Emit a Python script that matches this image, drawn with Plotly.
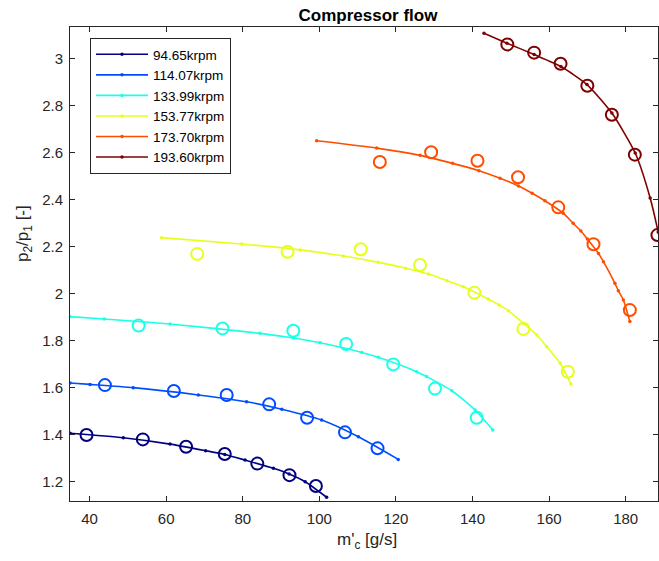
import plotly.graph_objects as go

# ---------------- data ----------------
speed_labels = ["94.65krpm", "114.07krpm", "133.99krpm", "153.77krpm", "173.70krpm", "193.60krpm"]
colors = ["#000080", "#004DFF", "#1AFFE6", "#E6FF1A", "#FF4D00", "#800000"]

# fitted speed lines (m'_c [g/s], p2/p1)
line1_x = [34.9, 48.8, 61.0, 70.3, 75.3, 80.6, 88.0, 92.1, 96.3, 101.9]
line1_y = [1.406, 1.387, 1.360, 1.332, 1.316, 1.292, 1.257, 1.233, 1.200, 1.134]
line2_x = [34.9, 40.1, 51.4, 68.4, 81.0, 90.2, 100.6, 110.2, 120.6]
line2_y = [1.620, 1.614, 1.600, 1.569, 1.540, 1.508, 1.462, 1.391, 1.295]
line3_x = [34.9, 43.8, 61.0, 84.5, 93.2, 100.2, 111.1, 115.4, 125.4, 128.0, 134.6, 140.7, 145.3]
line3_y = [1.902, 1.892, 1.871, 1.831, 1.811, 1.791, 1.750, 1.729, 1.668, 1.647, 1.587, 1.505, 1.420]
line4_x = [58.8, 79.7, 95.0, 106.3, 115.4, 122.6, 128.5, 133.3, 137.6, 144.1, 146.9, 149.4,
           153.3, 156.8, 159.4, 162.9, 165.7]
line4_y = [2.238, 2.211, 2.186, 2.160, 2.133, 2.108, 2.083, 2.055, 2.029, 1.977, 1.952, 1.927,
           1.874, 1.824, 1.774, 1.704, 1.616]
line5_x = [99.3, 115.0, 126.3, 134.8, 141.7, 147.2, 152.0, 155.6, 158.9, 163.7, 166.3, 168.3,
           170.0, 172.9, 174.2, 177.2, 178.1, 179.4, 181.1]
line5_y = [2.650, 2.619, 2.588, 2.554, 2.523, 2.491, 2.458, 2.427, 2.395, 2.342, 2.299, 2.266,
           2.232, 2.171, 2.136, 2.044, 2.012, 1.973, 1.881]
line6_x = [143.0, 149.0, 156.1, 163.1, 169.9, 176.4, 182.5, 186.4, 188.5, 189.8]
line6_y = [3.107, 3.065, 3.017, 2.966, 2.889, 2.768, 2.598, 2.407, 2.262, 2.156]

# measured points
meas1_x = [39.2, 53.9, 65.2, 75.3, 83.8, 92.2, 99.1]
meas1_y = [1.399, 1.380, 1.349, 1.318, 1.277, 1.228, 1.182]
meas2_x = [44.0, 62.0, 75.8, 86.9, 96.8, 106.7, 115.2]
meas2_y = [1.611, 1.586, 1.569, 1.529, 1.472, 1.410, 1.342]
meas3_x = [52.8, 74.7, 93.2, 107.0, 119.3, 130.2, 141.1]
meas3_y = [1.864, 1.852, 1.842, 1.786, 1.699, 1.596, 1.472]
meas4_x = [68.1, 91.7, 110.8, 126.3, 140.5, 153.3, 164.9]
meas4_y = [2.169, 2.178, 2.189, 2.122, 2.004, 1.850, 1.668]
meas5_x = [115.8, 129.2, 141.3, 151.9, 162.4, 171.6, 181.1]
meas5_y = [2.560, 2.601, 2.565, 2.495, 2.367, 2.210, 1.930]
meas6_x = [149.1, 156.1, 163.0, 170.0, 176.4, 182.4, 188.3]
meas6_y = [3.060, 3.025, 2.978, 2.884, 2.761, 2.591, 2.249]

x_ticks = [40, 60, 80, 100, 120, 140, 160, 180]
y_ticks = [1.2, 1.4, 1.6, 1.8, 2.0, 2.2, 2.4, 2.6, 2.8, 3.0]
y_tick_text = ["1.2", "1.4", "1.6", "1.8", "2", "2.2", "2.4", "2.6", "2.8", "3"]

lines = [(line1_x, line1_y), (line2_x, line2_y), (line3_x, line3_y),
         (line4_x, line4_y), (line5_x, line5_y), (line6_x, line6_y)]
meas = [(meas1_x, meas1_y), (meas2_x, meas2_y), (meas3_x, meas3_y),
        (meas4_x, meas4_y), (meas5_x, meas5_y), (meas6_x, meas6_y)]

FONT = "Liberation Sans, Arial, sans-serif"
AX = "#262626"

fig = go.Figure()
for (lx, ly), name, c in zip(lines, speed_labels, colors):
    fig.add_trace(go.Scatter(
        x=lx, y=ly, mode="lines+markers", name=name,
        line=dict(color=c, width=1.6, shape="spline", smoothing=0.6),
        marker=dict(color=c, size=3.5, symbol="circle"),
    ))
for (mx, my), c in zip(meas, colors):
    fig.add_trace(go.Scatter(
        x=mx, y=my, mode="markers", showlegend=False,
        marker=dict(symbol="circle-open", size=12, color=c, line=dict(color=c, width=2)),
    ))

axis_common = dict(
    showgrid=False, zeroline=False, showline=True, linecolor=AX, linewidth=1,
    mirror="ticks", ticks="inside", ticklen=5, tickcolor=AX, tickwidth=1,
    tickfont=dict(family=FONT, size=15, color=AX),
)
fig.update_xaxes(range=[34.88, 188.45], tickvals=x_ticks, ticklabelstandoff=4, **axis_common)
fig.update_yaxes(range=[1.118, 3.134], tickvals=y_ticks, ticktext=y_tick_text,
                 ticklabelstandoff=3, **axis_common)

fig.update_layout(
    width=659, height=561,
    margin=dict(l=70, r=1, t=27, b=60),
    plot_bgcolor="white", paper_bgcolor="white",
    font=dict(family=FONT, color=AX),
    title=dict(text="<b>Compressor flow</b>", x=368 / 659, xanchor="center",
               y=1 - 15 / 561, yanchor="middle",
               font=dict(family=FONT, size=17, color="black")),
    legend=dict(x=(90 - 70) / 588, y=(501 - 38) / 474, xanchor="left", yanchor="top",
                bgcolor="white", bordercolor=AX, borderwidth=1,
                font=dict(family=FONT, size=13.5, color="black"),
                itemwidth=52, tracegroupgap=0),
    annotations=[
        dict(text="m'<sub>c</sub> [g/s]", xref="paper", yref="paper",
             x=(367 - 70) / 588, y=(501 - 541) / 474, xanchor="center", yanchor="middle",
             showarrow=False, font=dict(family=FONT, size=17, color=AX)),
        dict(text="p<sub>2</sub>/p<sub>1</sub> [-]", xref="paper", yref="paper",
             x=(24 - 70) / 588, y=(501 - 234) / 474, xanchor="center", yanchor="middle",
             textangle=-90, showarrow=False, font=dict(family=FONT, size=17, color=AX)),
    ],
)

fig.write_html("out.html")
